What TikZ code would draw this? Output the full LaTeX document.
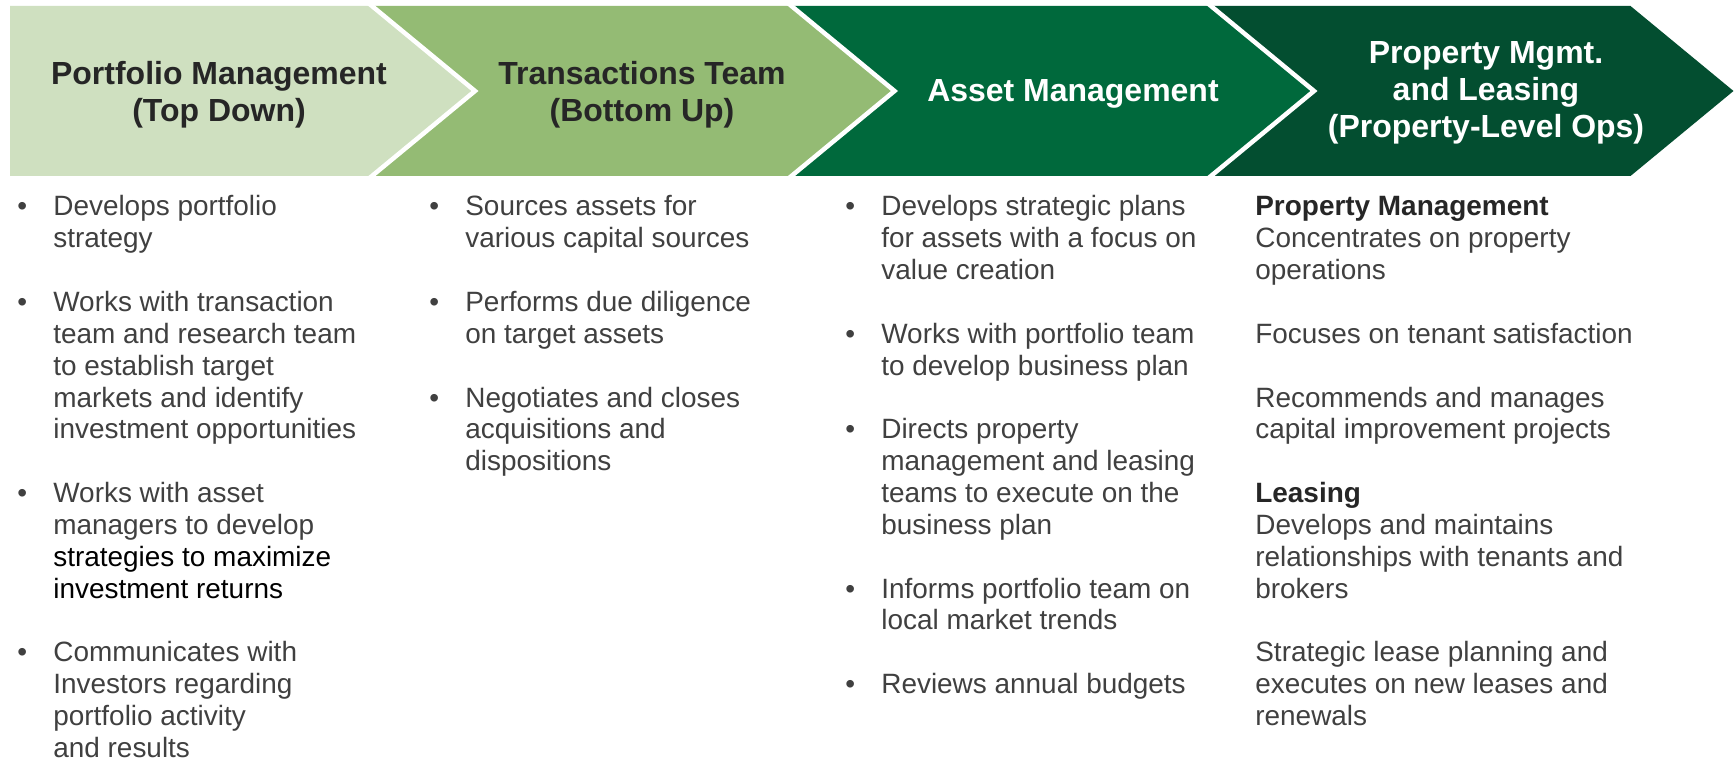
\documentclass[tikz,border=0pt]{standalone}
\usepackage{xcolor}
\usepackage{fontspec}
\setmainfont{Liberation Sans}
\usepackage{tikz}
\usetikzlibrary{positioning}
\usetikzlibrary{calc}

\begin{document}
\begin{tikzpicture}
    [%%%%%%%%%%%%%%%%%%%%%%%%%%%%%%
        x=0.02cm, y=-0.02cm,
        head/.style={align=center, inner sep=0pt, font=\fontsize{18.2}{21.2}\selectfont\bfseries},
        body/.style={anchor=base west, inner sep=0pt, text=txtgray, font=\fontsize{15.9}{18.12}\selectfont},
        sep/.style={white, line width=0.09cm, line join=miter}
    ]%%%%%%%%%%%%%%%%%%%%%%%%%%%%%%
\definecolor{chevA}{HTML}{CFE0C0}
\definecolor{chevB}{HTML}{94BB74}
\definecolor{chevC}{HTML}{00693C}
\definecolor{chevD}{HTML}{034E30}
\definecolor{hdark}{HTML}{262626}
\definecolor{txtgray}{HTML}{404040}

\path[use as bounding box, fill=white] (0,0) rectangle (1735,760);

% the four chevrons
\foreach \i/\col in {0/chevA,1/chevB,2/chevC,3/chevD}{
    \pgfmathsetmacro{\xc}{372+419.5*\i}
    \pgfmathsetmacro{\xl}{ifthenelse(\i==0,10,\xc-419.5)}
    \pgfmathsetmacro{\xn}{ifthenelse(\i==0,10,\xc-419.5+103)}
    \fill[\col] (\xl,6) -- (\xc,6) -- (\xc+103,91) -- (\xc,176) -- (\xl,176) -- (\xn,91) -- cycle;
}
\foreach \i in {0,1,2}{
    \draw[sep] (364.7+419.5*\i,0) -- (475+419.5*\i,91) -- (364.7+419.5*\i,182);
}

\node[head,text=hdark] (pm) at (219,95) {Portfolio Management\\(Top Down)};
\node[head,text=hdark] (tt) at (642,95) {Transactions Team\\(Bottom Up)};
\node[head,text=white] (am) at (1073,94) {Asset Management};
\node[head,text=white] (pl) at (1486,93) {Property Mgmt.\\and Leasing\\(Property-Level Ops)};

% lists under the chevrons
\node[body] (pmlist) at (17,216) {\begin{tabular}[t]{@{}p{0.72cm}@{}l@{}}
\textbullet & Develops portfolio\\
 & strategy\\
 & \\
\textbullet & Works with transaction\\
 & team and research team\\
 & to establish target\\
 & markets and identify\\
 & investment opportunities\\
 & \\
\textbullet & Works with asset\\
 & managers to develop\\
 & \textcolor{black}{strategies to maximize}\\
 & \textcolor{black}{investment returns}\\
 & \\
\textbullet & Communicates with\\
 & Investors regarding\\
 & portfolio activity\\
 & and results
\end{tabular}};

\node[body] (ttlist) at (429,216) {\begin{tabular}[t]{@{}p{0.72cm}@{}l@{}}
\textbullet & Sources assets for\\
 & various capital sources\\
 & \\
\textbullet & Performs due diligence\\
 & on target assets\\
 & \\
\textbullet & Negotiates and closes\\
 & acquisitions and\\
 & dispositions
\end{tabular}};

\node[body] (amlist) at (845,216) {\begin{tabular}[t]{@{}p{0.72cm}@{}l@{}}
\textbullet & Develops strategic plans\\
 & for assets with a focus on\\
 & value creation\\
 & \\
\textbullet & Works with portfolio team\\
 & to develop business plan\\
 & \\
\textbullet & Directs property\\
 & management and leasing\\
 & teams to execute on the\\
 & business plan\\
 & \\
\textbullet & Informs portfolio team on\\
 & local market trends\\
 & \\
\textbullet & Reviews annual budgets
\end{tabular}};

\node[body] (pllist) at (1255,216) {\begin{tabular}[t]{@{}l@{}}
\textcolor{hdark}{\bfseries Property Management}\\
Concentrates on property\\
operations\\
\\
Focuses on tenant satisfaction\\
\\
Recommends and manages\\
capital improvement projects\\
\\
\textcolor{hdark}{\bfseries Leasing}\\
Develops and maintains\\
relationships with tenants and\\
brokers\\
\\
Strategic lease planning and\\
executes on new leases and\\
renewals
\end{tabular}};

\end{tikzpicture}
\end{document}
